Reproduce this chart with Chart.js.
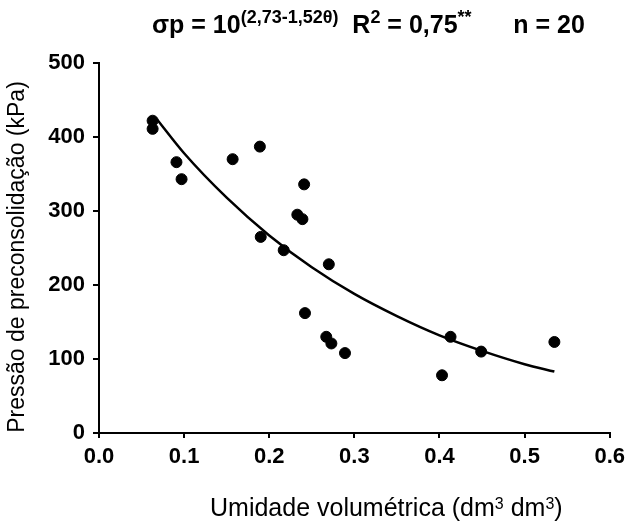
<!DOCTYPE html>
<html lang="pt">
<head>
    <meta charset="UTF-8">
    <title>Pressão de preconsolidação x umidade volumétrica</title>
    <script src="https://cdn.jsdelivr.net/npm/chart.js"></script>
    <style>
        html, body { margin: 0; padding: 0; background: #fff; }
        .chart-box { position: relative; width: 631px; height: 524px; }
    </style>
</head>
<body>
    <div class="chart-box">
        <canvas id="myChart"></canvas>
    </div>

    <script>
        // observed points (umidade volumetrica, pressao de preconsolidacao)
        const umidade = [0.063, 0.063, 0.091, 0.097, 0.157, 0.189, 0.190, 0.217, 0.233, 0.239,
                         0.241, 0.270, 0.242, 0.267, 0.273, 0.289, 0.413, 0.449, 0.403, 0.535];
        const pressao = [422, 411, 366, 343, 370, 387, 265, 247, 295, 289,
                         336, 228, 162, 130, 121, 108, 130, 110, 78, 123];

        // fitted curve
        const curvaX = [0.068, 0.10, 0.15, 0.20, 0.25, 0.30, 0.35, 0.40, 0.45, 0.50, 0.535];
        const curvaY = [424, 378, 318, 267, 224, 188, 158, 132, 111, 93, 83];

        const xTicks = [0, 0.1, 0.2, 0.3, 0.4, 0.5, 0.6];
        const yTicks = [0, 100, 200, 300, 400, 500];

        const FONT = "'Liberation Sans', Arial, sans-serif";

        // draws a run of normal / superscript pieces starting at x
        function drawRun(c, parts, x, base, size, supSize, rise, bold) {
            const w = bold ? 'bold ' : '';
            parts.forEach(p => {
                c.font = w + (p.sup ? supSize : size) + 'px ' + FONT;
                c.fillText(p.t, x, p.sup ? base - rise : base);
                x += c.measureText(p.t).width;
            });
        }

        // title and axis titles (they need superscripts)
        const textPlugin = {
            id: 'labels',
            afterDraw(chart) {
                const c = chart.ctx;
                c.save();
                c.fillStyle = '#000';
                c.textBaseline = 'alphabetic';
                c.textAlign = 'left';

                drawRun(c, [
                    { t: 'σp = 10' },
                    { t: '(2,73-1,52θ)', sup: true },
                    { t: '  R' },
                    { t: '2', sup: true },
                    { t: ' = 0,75' },
                    { t: '**', sup: true },
                    { t: '      n = 20' }
                ], 152, 33, 25, 18, 10, true);

                drawRun(c, [
                    { t: 'Umidade volumétrica (dm' },
                    { t: '3', sup: true },
                    { t: ' dm' },
                    { t: '3', sup: true },
                    { t: ')' }
                ], 210, 516, 25, 16, 7, false);

                c.translate(18, 257);
                c.rotate(-Math.PI / 2);
                c.textAlign = 'center';
                c.textBaseline = 'middle';
                c.font = '23px ' + FONT;
                c.fillText('Pressão de preconsolidação (kPa)', 0, 0);
                c.restore();
            }
        };

        const ctx = document.getElementById('myChart').getContext('2d');

        const myChart = new Chart(ctx, {
            data: {
                datasets: [
                    {
                        type: 'line',
                        label: 'ajuste',
                        data: curvaX.map((x, i) => ({ x: x, y: curvaY[i] })),
                        borderColor: '#000',
                        borderWidth: 2.5,
                        pointRadius: 0,
                        fill: false,
                        cubicInterpolationMode: 'monotone'
                    },
                    {
                        type: 'scatter',
                        label: 'observado',
                        data: umidade.map((x, i) => ({ x: x, y: pressao[i] })),
                        backgroundColor: '#000',
                        borderColor: '#000',
                        pointRadius: 5.5,
                        pointHoverRadius: 5.5
                    }
                ]
            },
            options: {
                responsive: true,
                maintainAspectRatio: false,
                animation: false,
                layout: { padding: { top: 63, right: 17, bottom: 0, left: 0 } },
                plugins: {
                    legend: { display: false },
                    tooltip: { enabled: false }
                },
                scales: {
                    x: {
                        type: 'linear',
                        min: 0, max: 0.6,
                        afterFit: s => { s.height = 91; },
                        afterBuildTicks: s => { s.ticks = xTicks.map(v => ({ value: v })); },
                        border: { color: '#000', width: 2 },
                        grid: { drawOnChartArea: false, color: '#000', lineWidth: 2, tickLength: 5 },
                        ticks: {
                            color: '#000',
                            padding: 6,
                            maxRotation: 0,
                            font: { family: FONT, size: 22, weight: 'bold' },
                            callback: v => v.toFixed(1)
                        }
                    },
                    y: {
                        type: 'linear',
                        min: 0, max: 500,
                        afterFit: s => { s.width = 99; },
                        afterBuildTicks: s => { s.ticks = yTicks.map(v => ({ value: v })); },
                        border: { color: '#000', width: 2 },
                        grid: { drawOnChartArea: false, color: '#000', lineWidth: 2, tickLength: 6 },
                        ticks: {
                            color: '#000',
                            padding: 8,
                            font: { family: FONT, size: 22, weight: 'bold' }
                        }
                    }
                }
            },
            plugins: [textPlugin]
        });
    </script>
</body>
</html>
